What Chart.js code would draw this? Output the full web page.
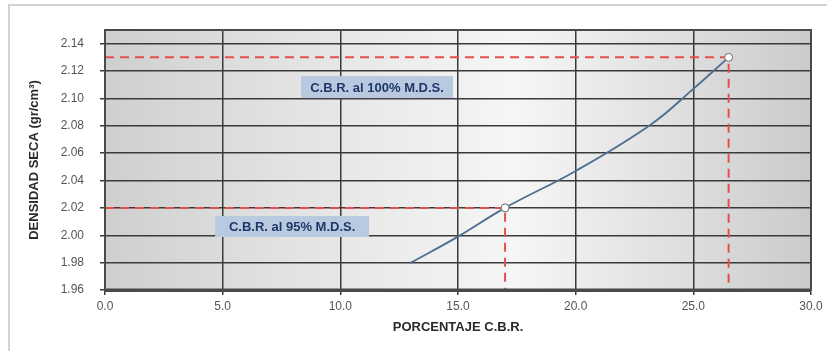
<!DOCTYPE html>
<html>
<head>
<meta charset="utf-8">
<script src="https://cdn.jsdelivr.net/npm/chart.js@4/dist/chart.umd.min.js"></script>
<style>
  html, body { margin: 0; padding: 0; background: #fff; }
  #wrap { width: 834px; height: 351px; position: relative; }
</style>
</head>
<body>
<div id="wrap"><canvas id="c" width="834" height="351"></canvas></div>
<script>
// Curva C.B.R. vs densidad seca
const cbrPct   = [13.0, 15.0, 17.0, 20.0, 23.2, 25.0, 26.5];
const densidad = [1.980, 1.999, 2.020, 2.047, 2.081, 2.107, 2.130];

// Puntos de lectura: 100% M.D.S. y 95% M.D.S.
const cbrLectura  = [26.5, 17.0];
const densLectura = [2.13, 2.02];
const rotulos     = ['C.B.R. al 100% M.D.S.', 'C.B.R. al 95% M.D.S.'];

// Ejes
const xTicks = [0, 5, 10, 15, 20, 25, 30];
const yTicks = [1.96, 1.98, 2.00, 2.02, 2.04, 2.06, 2.08, 2.10, 2.12, 2.14];
const xMin = 0, xMax = 30, yMin = 1.96, yMax = 2.15;

const FONT = "'Liberation Sans', Arial, sans-serif";
const ROJO = '#e2504c';

// Líneas de lectura punteadas (horizontal hasta el punto y vertical al eje X)
function guia(i) {
  return [
    { x: xMin, y: densLectura[i] },
    { x: cbrLectura[i], y: densLectura[i] },
    { x: cbrLectura[i], y: yMin }
  ];
}

const fondo = {
  id: 'fondo',
  beforeDraw(chart) {
    const { ctx, chartArea: a } = chart;
    ctx.save();
    // marco exterior de la hoja
    ctx.strokeStyle = '#c4c4c4';
    ctx.lineWidth = 1.5;
    ctx.beginPath();
    ctx.moveTo(9, 351);
    ctx.lineTo(9, 5);
    ctx.lineTo(827, 5);
    ctx.stroke();
    // relleno degradado del área de trazado
    const g = ctx.createLinearGradient(a.left, 0, a.right, 0);
    g.addColorStop(0, '#cfcfcf');
    g.addColorStop(0.25, '#e2e2e2');
    g.addColorStop(0.58, '#f6f6f6');
    g.addColorStop(0.82, '#dedede');
    g.addColorStop(1, '#cbcbcb');
    ctx.fillStyle = g;
    ctx.fillRect(a.left, a.top, a.right - a.left, a.bottom - a.top);
    ctx.restore();
  }
};

const marco = {
  id: 'marco',
  afterDatasetsDraw(chart) {
    const { ctx, chartArea: a } = chart;
    ctx.save();
    ctx.strokeStyle = '#4a4a4a';
    ctx.lineWidth = 2;
    ctx.strokeRect(a.left, a.top, a.right - a.left, a.bottom - a.top);
    ctx.lineWidth = 3;
    ctx.beginPath();
    ctx.moveTo(a.left, a.bottom);
    ctx.lineTo(a.right, a.bottom);
    ctx.stroke();
    ctx.restore();
  }
};

// Rótulos con fondo azul claro, anclados en coordenadas de los ejes
const rotulosPlugin = {
  id: 'rotulos',
  afterDraw(chart, args, opts) {
    const { ctx, scales: { x, y } } = chart;
    ctx.save();
    opts.cajas.forEach((c, i) => {
      const cx = x.getPixelForValue(c.x);
      const cy = y.getPixelForValue(c.y);
      ctx.fillStyle = '#b9c9e0';
      ctx.fillRect(cx - c.w / 2, cy - c.h / 2, c.w, c.h);
      ctx.fillStyle = '#1f3768';
      ctx.font = 'bold 13px ' + FONT;
      ctx.textAlign = 'center';
      ctx.textBaseline = 'middle';
      ctx.fillText(rotulos[i], cx, cy + 1);
    });
    ctx.restore();
  }
};

new Chart(document.getElementById('c'), {
  type: 'scatter',
  data: {
    datasets: [
      {
        label: 'lecturas',
        data: cbrLectura.map((v, i) => ({ x: v, y: densLectura[i] })),
        pointRadius: 4,
        pointBackgroundColor: '#ffffff',
        pointBorderColor: '#6a6a6a',
        pointBorderWidth: 1,
        showLine: false
      },
      {
        label: 'curva',
        data: cbrPct.map((v, i) => ({ x: v, y: densidad[i] })),
        showLine: true,
        borderColor: '#4d6d92',
        borderWidth: 1.8,
        pointRadius: 0,
        tension: 0.4
      },
      {
        label: '100%',
        data: guia(0),
        showLine: true,
        borderColor: ROJO,
        borderWidth: 2,
        borderDash: [9, 6],
        pointRadius: 0
      },
      {
        label: '95%',
        data: guia(1),
        showLine: true,
        borderColor: ROJO,
        borderWidth: 2,
        borderDash: [9, 6],
        pointRadius: 0
      }
    ]
  },
  options: {
    responsive: false,
    animation: false,
    devicePixelRatio: 1,
    layout: { padding: { top: 30, right: 23, bottom: 0, left: 0 } },
    plugins: {
      legend: { display: false },
      tooltip: { enabled: false },
      rotulos: {
        cajas: [
          { x: 11.56, y: 2.1083, w: 152, h: 22 },
          { x: 7.95, y: 2.0064, w: 154, h: 21 }
        ]
      }
    },
    scales: {
      x: {
        type: 'linear',
        min: xMin, max: xMax,
        afterBuildTicks: s => { s.ticks = xTicks.map(v => ({ value: v })); },
        afterFit: s => { s.height = 61; },
        ticks: {
          callback: v => Number(v).toFixed(1),
          font: { family: FONT, size: 12 },
          color: '#555',
          padding: 4,
          maxRotation: 0
        },
        grid: { color: '#3a3a3a', lineWidth: 1.5, tickLength: 5, tickColor: '#3a3a3a' },
        border: { display: true, color: '#4a4a4a', width: 3 },
        title: {
          display: true,
          text: 'PORCENTAJE C.B.R.',
          font: { family: FONT, size: 13, weight: 'bold' },
          color: '#2a2a2a',
          padding: { top: 0, bottom: 16 }
        }
      },
      y: {
        type: 'linear',
        min: yMin, max: yMax,
        afterBuildTicks: s => { s.ticks = yTicks.map(v => ({ value: v })); },
        afterFit: s => { s.width = 105; },
        ticks: {
          callback: v => Number(v).toFixed(2),
          font: { family: FONT, size: 12 },
          color: '#555',
          padding: 16
        },
        grid: { color: '#3a3a3a', lineWidth: 1.5, tickLength: 5, tickColor: '#3a3a3a' },
        border: { display: true, color: '#4a4a4a', width: 2 },
        title: {
          display: true,
          text: 'DENSIDAD SECA (gr/cm³)',
          font: { family: FONT, size: 13, weight: 'bold' },
          color: '#2a2a2a',
          padding: { top: 27, bottom: 0 }
        }
      }
    }
  },
  plugins: [fondo, marco, rotulosPlugin]
});
</script>
</body>
</html>
